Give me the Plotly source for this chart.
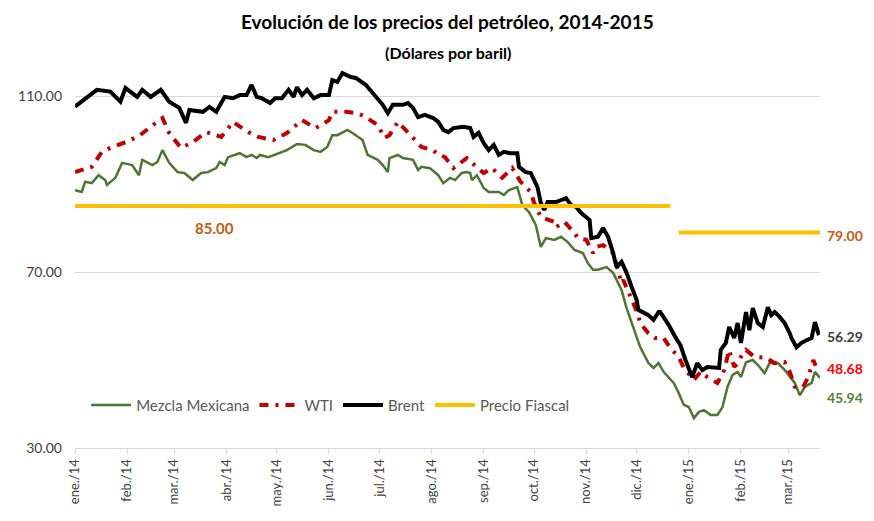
import plotly.graph_objects as go

# ---------------- data ----------------
brent_dates = ["2014-01-01","2014-01-14","2014-01-22","2014-01-28","2014-01-31","2014-02-07","2014-02-10","2014-02-15",
 "2014-02-21","2014-02-26","2014-03-04","2014-03-08","2014-03-10","2014-03-18","2014-03-22","2014-03-26","2014-03-31",
 "2014-04-05","2014-04-09","2014-04-13","2014-04-16","2014-04-19","2014-04-22","2014-04-27","2014-04-30","2014-05-04",
 "2014-05-08","2014-05-11","2014-05-13","2014-05-16","2014-05-19","2014-05-23","2014-05-27","2014-06-01","2014-06-03",
 "2014-06-06","2014-06-09","2014-06-14","2014-06-17","2014-06-23","2014-06-27","2014-06-30","2014-07-03","2014-07-06",
 "2014-07-09","2014-07-15","2014-07-18","2014-07-21","2014-07-24","2014-07-28","2014-08-02","2014-08-05","2014-08-08",
 "2014-08-11","2014-08-14","2014-08-20","2014-08-24","2014-08-26","2014-08-29","2014-09-01","2014-09-04","2014-09-07",
 "2014-09-10","2014-09-13","2014-09-17","2014-09-21","2014-09-22","2014-09-26","2014-09-29","2014-10-03","2014-10-05",
 "2014-10-07","2014-10-09","2014-10-14","2014-10-20","2014-10-23","2014-10-26","2014-10-29","2014-11-03","2014-11-04",
 "2014-11-08","2014-11-11","2014-11-14","2014-11-17","2014-11-19","2014-11-22","2014-11-25","2014-11-28","2014-12-01",
 "2014-12-02","2014-12-08","2014-12-11","2014-12-14","2014-12-15","2014-12-20","2014-12-24","2014-12-27","2014-12-30",
 "2015-01-01","2015-01-03","2015-01-06","2015-01-09","2015-01-12","2015-01-16","2015-01-19","2015-01-20","2015-01-23",
 "2015-01-25","2015-01-28","2015-01-30","2015-02-01","2015-02-04","2015-02-06","2015-02-08","2015-02-11","2015-02-14",
 "2015-02-17","2015-02-19","2015-02-21","2015-02-24","2015-02-27","2015-03-02","2015-03-03","2015-03-06","2015-03-09",
 "2015-03-12","2015-03-15","2015-03-17","2015-03-19","2015-03-20"]
brent_values = [107.6,111.4,111.0,108.7,111.8,109.8,111.4,109.8,
 111.4,108.7,107.3,103.9,106.8,106.4,107.5,106.4,109.8,
 109.5,110.2,110.2,112.5,109.8,109.5,108.4,109.5,109.5,
 111.4,109.8,112.0,110.2,111.4,109.5,110.2,110.2,113.6,
 113.2,115.2,114.3,114.1,112.5,110.7,109.5,108.0,106.1,
 108.0,108.0,108.4,107.3,105.2,105.7,105.0,104.1,102.3,
 101.8,102.7,103.0,102.7,100.7,101.6,99.3,97.7,98.9,
 96.6,97.3,97.0,97.0,93.9,92.7,92.5,89.3,85.7,
 84.1,85.9,85.9,86.8,85.2,84.8,83.4,81.8,77.7,
 78.0,80.0,78.0,74.3,71.1,72.3,69.8,66.6,63.6,
 61.4,60.2,59.1,60.9,60.9,58.0,55.2,53.4,50.0,
 48.2,46.1,49.3,47.7,48.4,48.2,48.2,52.3,53.9,
 57.5,55.0,58.4,53.9,60.9,56.8,61.8,58.4,57.5,
 62.0,60.2,60.9,59.8,58.4,56.1,55.0,52.9,53.9,
 54.5,55.0,58.6,56.1,56.29]

wti_dates = ["2014-01-01","2014-01-11","2014-01-17","2014-01-23","2014-01-31","2014-02-08","2014-02-14","2014-02-22",
 "2014-02-26","2014-03-05","2014-03-12","2014-03-20","2014-03-29","2014-04-05","2014-04-14","2014-04-20","2014-04-29",
 "2014-05-07","2014-05-16","2014-05-24","2014-06-01","2014-06-03","2014-06-11","2014-06-18","2014-06-23","2014-06-30",
 "2014-07-04","2014-07-07","2014-07-12","2014-07-18","2014-07-21","2014-07-26","2014-08-02","2014-08-05","2014-08-09",
 "2014-08-14","2014-08-22","2014-08-25","2014-09-01","2014-09-06","2014-09-12","2014-09-18","2014-09-23","2014-09-29",
 "2014-10-01","2014-10-05","2014-10-13","2014-10-14","2014-10-19","2014-10-25","2014-10-27","2014-11-01","2014-11-05",
 "2014-11-07","2014-11-11","2014-11-17","2014-11-20","2014-11-22","2014-11-23","2014-11-28","2014-12-02","2014-12-03",
 "2014-12-08","2014-12-12","2014-12-17","2014-12-21","2014-12-26","2014-12-29","2015-01-04","2015-01-08","2015-01-12",
 "2015-01-18","2015-01-22","2015-01-25","2015-01-28","2015-01-30","2015-02-01","2015-02-04","2015-02-09","2015-02-16",
 "2015-02-21","2015-02-27","2015-03-02","2015-03-05","2015-03-10","2015-03-13","2015-03-16","2015-03-18","2015-03-20"]
wti_values = [92.7,93.9,97.3,98.4,99.5,100.9,102.7,105.0,
 101.6,98.2,99.5,101.8,100.7,104.1,101.8,100.7,100.0,
 101.6,104.5,102.7,104.5,106.4,106.4,106.1,105.2,103.4,
 100.5,101.1,104.1,101.8,100.5,98.4,97.7,96.6,96.1,
 93.6,95.9,94.8,92.5,93.6,91.4,93.6,90.5,88.2,
 85.7,82.5,81.4,80.2,81.4,78.9,77.7,77.3,74.3,
 75.7,76.1,74.3,70.5,67.5,68.2,63.6,60.2,58.4,
 56.1,55.0,55.0,52.7,50.7,48.2,45.5,47.3,46.1,
 44.8,47.7,52.3,48.4,49.3,50.7,52.3,50.7,50.5,
 49.3,49.5,47.3,43.9,43.9,46.1,50.0,48.2,48.68]

mezcla_dates = ["2014-01-01","2014-01-05","2014-01-07","2014-01-11","2014-01-15","2014-01-19","2014-01-20","2014-01-25",
 "2014-01-29","2014-02-04","2014-02-08","2014-02-10","2014-02-16","2014-02-19","2014-02-22","2014-02-26","2014-03-03",
 "2014-03-07","2014-03-12","2014-03-17","2014-03-21","2014-03-26","2014-03-28","2014-03-31","2014-04-02","2014-04-09",
 "2014-04-13","2014-04-16","2014-04-19","2014-04-21","2014-04-26","2014-05-02","2014-05-07","2014-05-13","2014-05-18",
 "2014-05-23","2014-05-27","2014-05-31","2014-06-03","2014-06-06","2014-06-12","2014-06-15","2014-06-21","2014-06-24",
 "2014-06-30","2014-07-03","2014-07-06","2014-07-07","2014-07-12","2014-07-15","2014-07-21","2014-07-24","2014-07-26",
 "2014-07-31","2014-08-05","2014-08-08","2014-08-09","2014-08-12","2014-08-15","2014-08-19","2014-08-22","2014-08-24",
 "2014-08-25","2014-08-28","2014-09-01","2014-09-04","2014-09-10","2014-09-13","2014-09-16","2014-09-21","2014-09-24",
 "2014-09-28","2014-10-02","2014-10-05","2014-10-08","2014-10-13","2014-10-17","2014-10-21","2014-10-25","2014-10-30",
 "2014-11-02","2014-11-05","2014-11-08","2014-11-13","2014-11-17","2014-11-22","2014-11-25","2014-11-29","2014-12-03",
 "2014-12-08","2014-12-11","2014-12-14","2014-12-17","2014-12-23","2014-12-26","2014-12-29","2015-01-01","2015-01-04",
 "2015-01-07","2015-01-10","2015-01-14","2015-01-18","2015-01-21","2015-01-24","2015-01-27","2015-01-30","2015-02-01",
 "2015-02-04","2015-02-08","2015-02-11","2015-02-15","2015-02-18","2015-02-23","2015-02-28","2015-03-05","2015-03-08",
 "2015-03-11","2015-03-15","2015-03-17","2015-03-20"]
mezcla_values = [88.6,88.2,90.5,90.2,92.0,90.9,89.8,91.4,
 94.8,94.3,92.0,95.5,94.3,95.0,97.7,94.8,92.7,
 92.5,90.9,92.5,92.7,93.6,95.0,94.3,96.1,97.0,
 96.1,96.6,95.9,96.6,96.1,97.0,97.7,99.1,98.9,
 97.7,97.3,98.4,101.1,101.1,102.3,101.6,100.0,96.6,
 95.5,94.3,92.7,95.9,96.6,95.9,95.5,93.2,93.9,
 93.6,92.0,90.2,90.5,91.4,90.9,92.5,92.7,92.5,
 90.9,92.0,89.1,88.2,88.2,87.5,88.6,89.3,85.2,
 83.6,80.7,75.7,77.7,77.3,78.0,76.8,75.0,74.3,
 72.0,70.5,70.5,71.1,69.8,65.9,61.8,57.5,53.0,
 49.3,48.2,49.3,47.3,44.8,42.5,39.8,39.3,36.8,
 38.2,38.6,37.5,37.5,39.3,43.9,46.6,47.3,46.1,
 49.5,50.0,48.9,47.0,49.3,49.3,47.3,44.8,42.0,
 43.9,44.8,47.3,45.94]

fiscal_dates = ["2014-01-01","2014-12-21",None,"2014-12-26","2015-03-20"]
fiscal_values = [85, 85, None, 79, 79]
fiscal_labels = ["85.00", "79.00"]

tick_dates = ["2014-01-01","2014-02-01","2014-03-01","2014-04-01","2014-05-01","2014-06-01","2014-07-01","2014-08-01",
 "2014-09-01","2014-10-01","2014-11-01","2014-12-01","2015-01-01","2015-02-01","2015-03-01"]
tick_labels = ["ene./14","feb./14","mar./14","abr./14","may./14","jun./14","jul./14","ago./14",
 "sep./14","oct./14","nov./14","dic./14","ene./15","feb./15","mar./15"]

title_text = "Evolución de los precios del petróleo, 2014-2015"
subtitle_text = "(Dólares por baril)"

# ---------------- styles ----------------
GREEN = "#4E7532"
RED = "#C00000"
BLACK = "#000000"
GOLD = "#FFC000"
ORANGE = "#C55A11"
FONT = "Lato"

fig = go.Figure()
fig.add_trace(go.Scatter(x=mezcla_dates, y=mezcla_values, mode="lines", name="Mezcla Mexicana",
                         line=dict(color=GREEN, width=2.5)))
fig.add_trace(go.Scatter(x=wti_dates, y=wti_values, mode="lines", name="WTI",
                         line=dict(color=RED, width=4, dash="9px,7px,3px,7px")))
fig.add_trace(go.Scatter(x=brent_dates, y=brent_values, mode="lines", name="Brent",
                         line=dict(color=BLACK, width=4)))
fig.add_trace(go.Scatter(x=fiscal_dates, y=fiscal_values, mode="lines", name="Precio Fiascal",
                         line=dict(color=GOLD, width=4), connectgaps=False))

# titles
fig.add_annotation(xref="paper", yref="paper", x=0.5, y=1.0758, yanchor="middle", text=f"<b>{title_text}</b>",
                   showarrow=False, font=dict(size=19, color="#000000", family=FONT))
fig.add_annotation(xref="paper", yref="paper", x=0.5, y=1.0, yanchor="middle", text=f"<b>{subtitle_text}</b>",
                   showarrow=False, font=dict(size=16, color="#000000", family=FONT))

# value annotations
fig.add_annotation(x="2014-03-25", y=fiscal_values[0], yshift=-22, text=f"<b>{fiscal_labels[0]}</b>", showarrow=False,
                   font=dict(color=ORANGE, size=15, family=FONT))
fig.add_annotation(x=fiscal_dates[-1], y=fiscal_values[-1], xanchor="left", xshift=5, yshift=-3,
                   text=f"<b>{fiscal_labels[1]}</b>", showarrow=False, font=dict(color=ORANGE, size=14, family=FONT))
fig.add_annotation(x=brent_dates[-1], y=brent_values[-1], xanchor="left", xshift=5, yshift=-4,
                   text=f"<b>{brent_values[-1]:.2f}</b>", showarrow=False,
                   font=dict(color="#404040", size=14, family=FONT))
fig.add_annotation(x=wti_dates[-1], y=wti_values[-1], xanchor="left", xshift=5, yshift=-3,
                   text=f"<b>{wti_values[-1]:.2f}</b>", showarrow=False,
                   font=dict(color="#FF0000", size=14, family=FONT))
fig.add_annotation(x=mezcla_dates[-1], y=mezcla_values[-1], xanchor="left", xshift=5, yshift=-20,
                   text=f"<b>{mezcla_values[-1]:.2f}</b>", showarrow=False,
                   font=dict(color="#538135", size=14, family=FONT))

fig.update_layout(
    width=866, height=513,
    margin=dict(l=67, r=54, t=44, b=73, autoexpand=False),
    paper_bgcolor="white", plot_bgcolor="white",
    font=dict(family=FONT, color="#404040"),
    showlegend=True,
    legend=dict(orientation="h", x=0.015, xanchor="left", y=0.108, yanchor="middle",
                font=dict(size=15, color="#595959", family=FONT), bgcolor="rgba(0,0,0,0)",
                itemwidth=40, tracegroupgap=0),
    xaxis=dict(type="date", range=["2014-01-01", "2015-03-20"], tickvals=tick_dates, ticktext=tick_labels,
               tickangle=-90, tickfont=dict(size=13, color="#404040"), showgrid=False, showline=True,
               linecolor="#D9D9D9", linewidth=1, ticks="outside", ticklen=5, tickcolor="#D9D9D9", zeroline=False),
    yaxis=dict(range=[30, 120], tickvals=[30, 70, 110], tickformat=".2f", showgrid=True, gridcolor="#D9D9D9",
               gridwidth=1, showline=False, zeroline=False, tickfont=dict(size=14, color="#404040"),
               ticks="", ticklabelstandoff=12),
)

fig.write_html("out.html")
